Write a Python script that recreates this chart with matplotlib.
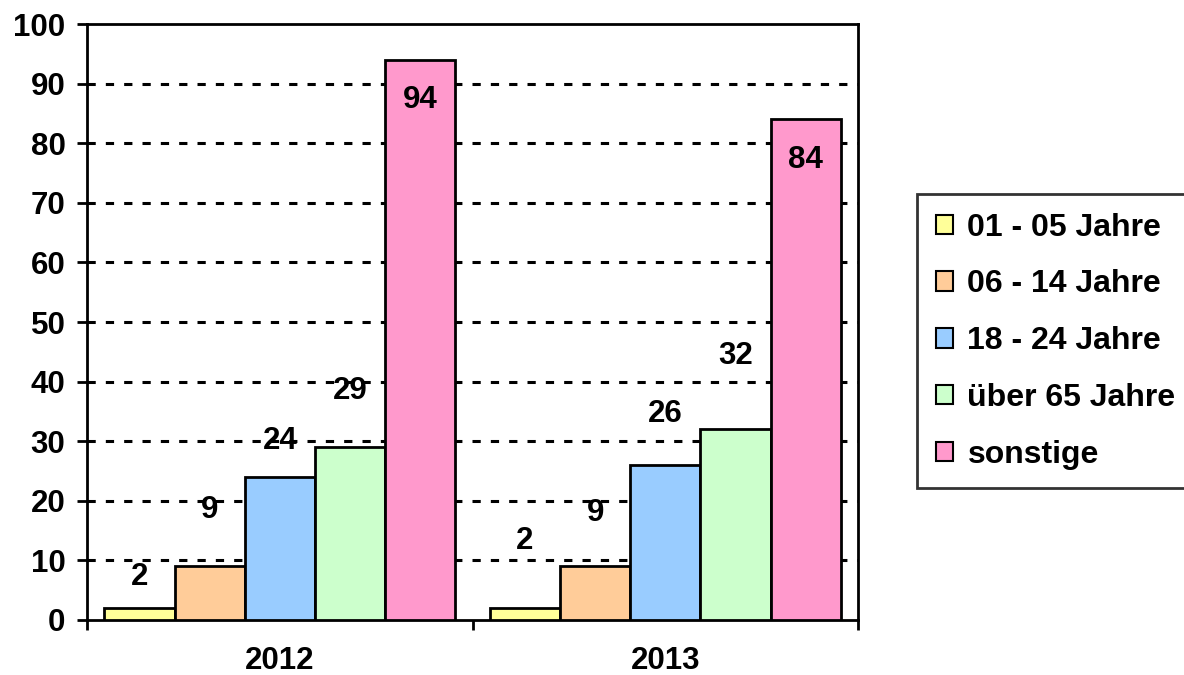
import matplotlib
matplotlib.use("Agg")
import matplotlib.pyplot as plt
import numpy as np

# ── Data ──────────────────────────────────────────────────────────────────────
YEARS = ["2012", "2013"]
GROUPS = ["01 - 05 Jahre", "06 - 14 Jahre", "18 - 24 Jahre", "über 65 Jahre", "sonstige"]
VALUES = {
    "01 - 05 Jahre": [2, 2],
    "06 - 14 Jahre": [9, 9],
    "18 - 24 Jahre": [24, 26],
    "über 65 Jahre": [29, 32],
    "sonstige":      [94, 84],
}
# where the value labels sit (data units), as placed in the original
LABEL_Y = {
    "01 - 05 Jahre": [7.2, 13.2],
    "06 - 14 Jahre": [18.5, 17.9],
    "18 - 24 Jahre": [30.0, 34.6],
    "über 65 Jahre": [38.4, 44.3],
    "sonstige":      [87.2, 77.2],
}
COLORS = ["#FFFF99", "#FFCC99", "#99CCFF", "#CCFFCC", "#FF99CC"]

plt.rcParams["font.family"] = ["Liberation Sans", "DejaVu Sans"]
plt.rcParams["font.weight"] = "bold"

FS = 22.5

fig = plt.figure(figsize=(11.84, 6.75), dpi=100)
ax = fig.add_axes([0.0735, 0.0815, 0.6512, 0.8829])

x = np.arange(len(YEARS))
width = 0.182
for i, (grp, col) in enumerate(zip(GROUPS, COLORS)):
    offs = (i - 2) * width
    ax.bar(x + offs, VALUES[grp], width, color=col, edgecolor="black",
           linewidth=2.0, label=grp, zorder=3)
    for xi, v, ly in zip(x, VALUES[grp], LABEL_Y[grp]):
        ax.text(xi + offs, ly, str(v), ha="center", va="center",
                fontsize=FS, fontweight="bold", zorder=4)

ax.set_xlim(-0.5, 1.5)
ax.set_ylim(0, 100)
ax.set_yticks(range(0, 101, 10))
ax.set_xticks(x)
ax.set_xticklabels(YEARS)
ax.set_xticks([-0.5, 0.5, 1.5], minor=True)
ax.tick_params(axis="x", which="major", length=0, pad=19, labelsize=FS)
ax.tick_params(axis="x", which="minor", length=7, width=2, direction="out")
ax.tick_params(axis="y", length=7, width=2, direction="out", labelsize=FS, pad=8.5)
for lbl in ax.get_xticklabels() + ax.get_yticklabels():
    lbl.set_fontweight("bold")

for yv in range(10, 100, 10):
    ax.axhline(yv, color="black", linewidth=2.2, linestyle=(0, (2.7, 3.3)), zorder=1)

for sp in ax.spines.values():
    sp.set_linewidth(2.0)

leg = ax.legend(loc="upper left", bbox_to_anchor=(0.7745, 0.7126),
                bbox_transform=fig.transFigure, frameon=True, fancybox=False,
                handlelength=0.55, handleheight=0.55, handletextpad=0.45,
                labelspacing=0.84, borderpad=0.58, borderaxespad=0,
                prop={"size": 23, "weight": "bold"})
leg.get_frame().set_edgecolor("black")
leg.get_frame().set_linewidth(2.0)
for h in leg.legend_handles:
    h.set_linewidth(1.5)

fig.savefig("out.png", dpi=100)
